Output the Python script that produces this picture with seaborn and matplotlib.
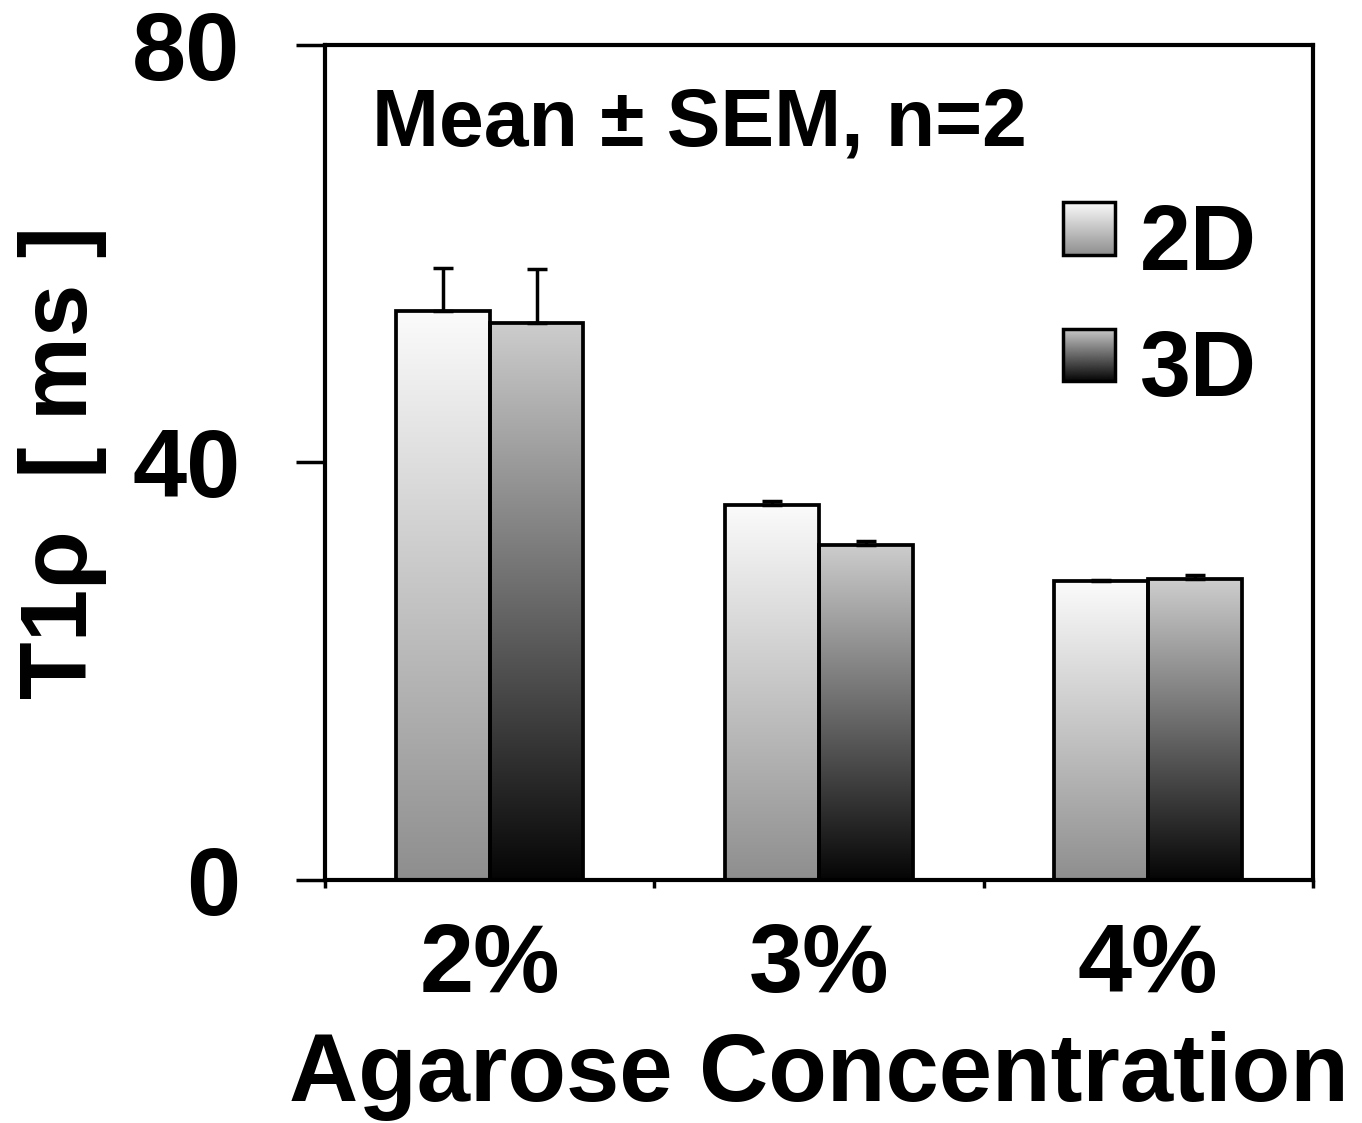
import numpy as np
import pandas as pd
import seaborn as sns
import matplotlib.pyplot as plt
from matplotlib.colors import LinearSegmentedColormap
from matplotlib.legend_handler import HandlerBase
from matplotlib.image import BboxImage
from matplotlib.transforms import Bbox, TransformedBbox
from matplotlib.patches import Rectangle

# data
concentrations = ["2%", "3%", "4%"]
methods = ["2D", "3D"]
t1rho_2d = [54.5, 35.9, 28.6]
t1rho_3d = [53.4, 32.1, 28.8]
sem_2d = [4.1, 0.4, 0.1]
sem_3d = [5.1, 0.4, 0.4]

df = pd.DataFrame({
    "conc": concentrations * 2,
    "method": ["2D"] * 3 + ["3D"] * 3,
    "t1rho": t1rho_2d + t1rho_3d,
    "sem": sem_2d + sem_3d,
})

sns.set_style("white")
plt.rcParams['font.family'] = ['Liberation Sans', 'DejaVu Sans']
plt.rcParams['font.weight'] = 'bold'
for k in ["text.color", "axes.labelcolor", "xtick.color", "ytick.color"]:
    plt.rcParams[k] = "black"

# bottom -> top colours of each bar's gradient
cmaps = {
    "2D": LinearSegmentedColormap.from_list("g2d", ["#8e8e8e", "#fbfbfb"]),
    "3D": LinearSegmentedColormap.from_list("g3d", ["#050505", "#cdcdcd"]),
}
grad = np.linspace(0, 1, 256).reshape(-1, 1)

fig = plt.figure(figsize=(13.62, 11.23), dpi=100)
ax = fig.add_axes([0.2386, 0.2164, 0.7254, 0.7436])

sns.barplot(data=df, x="conc", y="t1rho", hue="method", hue_order=methods,
            order=concentrations, errorbar=None, width=0.57, gap=0,
            palette=["#dddddd", "#555555"], edgecolor="black", linewidth=2.7,
            legend=False, ax=ax)

bars = [p for p in ax.patches if isinstance(p, Rectangle) and p.get_height() > 0]
bars = sorted(bars, key=lambda p: p.get_x())
for p in bars:
    x, w, h = p.get_x(), p.get_width(), p.get_height()
    xc = x + w / 2
    m = "2D" if xc < round(xc) else "3D"
    im = ax.imshow(grad, extent=[x, x + w, 0, h], origin="lower", cmap=cmaps[m],
                   aspect="auto", zorder=p.get_zorder() + 0.1, interpolation="bicubic")
    im.set_clip_path(p)
    p.set_facecolor("none")
    p.set_zorder(p.get_zorder() + 0.2)

# upper error bars only
for p in bars:
    xc = p.get_x() + p.get_width() / 2
    row = df[(df["t1rho"] == p.get_height())].iloc[0]
    ax.errorbar(xc, row["t1rho"], yerr=[[0], [row["sem"]]], fmt="none",
                ecolor="black", elinewidth=2.5, capsize=7, capthick=2.5, zorder=5)

ax.set_xlim(-0.5, 2.5)
ax.set_ylim(0, 80)
ax.set_yticks([0, 40, 80])
ax.set_xticks(range(3))
ax.set_xticks([-0.5, 0.5, 1.5, 2.5], minor=True)
ax.tick_params(axis="x", which="major", length=0, pad=30, labelsize=70)
ax.tick_params(axis="x", which="minor", length=6, width=2.5, direction="out", bottom=True)
ax.tick_params(axis="y", length=21, width=2.5, direction="out", left=True, labelsize=70, pad=40)
for s in ax.spines.values():
    s.set_linewidth(3)
    s.set_color("black")

ax.set_xlabel("Agarose Concentration", fontsize=69, fontweight="bold", labelpad=14)
ax.set_ylabel("T1ρ  [ ms ]", fontsize=68, fontweight="bold", labelpad=18)

ax.text(0.0476, 0.879, "Mean ± SEM, n=2", transform=ax.transAxes, fontsize=58,
        fontweight="bold", va="baseline", ha="left")


class GradientHandler(HandlerBase):
    def __init__(self, cmap):
        super().__init__()
        self.cmap = cmap

    def create_artists(self, legend, orig_handle, xdescent, ydescent, width,
                       height, fontsize, trans):
        s = 0.57 * fontsize
        x0 = -xdescent
        y0 = -ydescent + (height - s) / 2 + 0.1 * fontsize
        bb = TransformedBbox(Bbox.from_bounds(x0, y0, s, s), trans)
        img = BboxImage(bb, cmap=self.cmap, interpolation="bicubic", origin="lower")
        img.set_data(grad)
        edge = Rectangle((x0, y0), s, s, facecolor="none", edgecolor="black",
                         linewidth=2.5, transform=trans)
        return [img, edge]


h2 = Rectangle((0, 0), 1, 1)
h3 = Rectangle((0, 0), 1, 1)
ax.legend([h2, h3], methods, loc="upper left", bbox_to_anchor=(0.747, 0.811),
          frameon=False, fontsize=66, handlelength=0.57, handleheight=0.7,
          handletextpad=0.27, labelspacing=0.44, borderpad=0, borderaxespad=0,
          handler_map={h2: GradientHandler(cmaps["2D"]), h3: GradientHandler(cmaps["3D"])})

fig.savefig("out.png", dpi=100)
